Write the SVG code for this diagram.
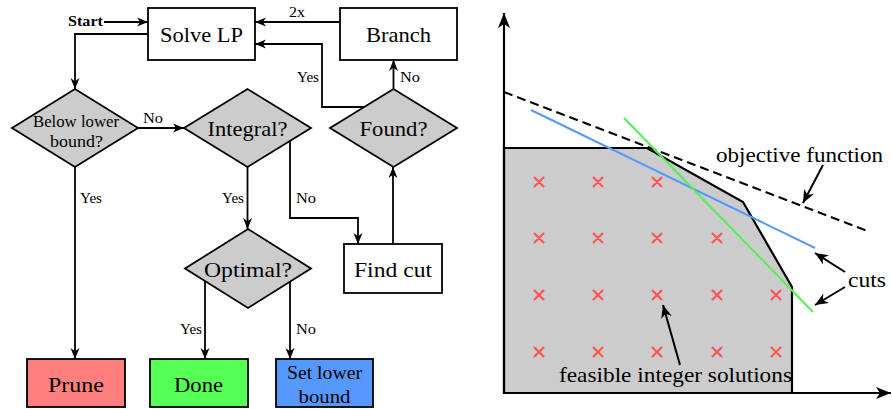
<svg xmlns="http://www.w3.org/2000/svg" width="892" height="409" viewBox="0 0 892 409">
  <defs>
    <style>
      text { font-family: "Liberation Serif", "DejaVu Serif", "Noto Serif", serif; fill: #000; }
      .box { stroke: #000; stroke-width: 1.8; }
      .dia { fill: #cccccc; stroke: #000; stroke-width: 1.8; }
      .lbl { font-size: 22px; text-anchor: middle; }
      .sm { font-size: 14px; }
      .big { font-size: 21px; }
      .edge { fill: none; stroke: #000; stroke-width: 1.8; marker-end: url(#arr); }
      .ptr { fill: none; stroke: #000; stroke-width: 2; marker-end: url(#arr2); }
      .x { stroke: #ff5555; stroke-width: 2.2; }
    </style>
    <marker id="arr" markerUnits="userSpaceOnUse" viewBox="0 0 11 10" refX="11" refY="5" markerWidth="11" markerHeight="10" orient="auto">
      <path d="M11,5 L0,0.5 L3.2,5 L0,9.5 Z" fill="#000"/>
    </marker>
    <marker id="arr2" markerUnits="userSpaceOnUse" viewBox="0 0 13 12" refX="13" refY="6" markerWidth="13" markerHeight="12" orient="auto">
      <path d="M13,6 L0,0.5 L3.8,6 L0,11.5 Z" fill="#000"/>
    </marker>
    <marker id="axarr" markerUnits="userSpaceOnUse" viewBox="0 0 15 13" refX="15" refY="6.5" markerWidth="15" markerHeight="13" orient="auto">
      <path d="M15,6.5 L0,0.5 L4,6.5 L0,12.5 Z" fill="#000"/>
    </marker>
  </defs>

  <!-- flowchart nodes -->
  <g id="solve-lp">
    <rect class="box" x="148" y="8" width="107" height="52" fill="#fff"/>
    <text class="lbl" x="201.5" y="42" textLength="83" lengthAdjust="spacingAndGlyphs">Solve LP</text>
  </g>
  <g id="branch">
    <rect class="box" x="340" y="8" width="117" height="52" fill="#fff"/>
    <text class="lbl" x="398.5" y="42" textLength="65" lengthAdjust="spacingAndGlyphs">Branch</text>
  </g>
  <g id="below-bound">
    <polygon class="dia" points="12,128 75,89 138,128 75,167"/>
    <text class="lbl" style="font-size:16px" x="76" y="127" textLength="86" lengthAdjust="spacingAndGlyphs">Below lower</text>
    <text class="lbl" style="font-size:16px" x="76.5" y="147" textLength="53" lengthAdjust="spacingAndGlyphs">bound?</text>
  </g>
  <g id="integral">
    <polygon class="dia" points="184,128 247.5,89 311,128 247.5,167"/>
    <text class="lbl" x="247.5" y="136" textLength="80" lengthAdjust="spacingAndGlyphs">Integral?</text>
  </g>
  <g id="found">
    <polygon class="dia" points="330,128 393.5,89 457,128 393.5,167"/>
    <text class="lbl" x="393.5" y="136" textLength="68" lengthAdjust="spacingAndGlyphs">Found?</text>
  </g>
  <g id="optimal">
    <polygon class="dia" points="185,268.5 248,229 311,268.5 248,308"/>
    <text class="lbl" x="248" y="277" textLength="88" lengthAdjust="spacingAndGlyphs">Optimal?</text>
  </g>
  <g id="find-cut">
    <rect class="box" x="344" y="244" width="98" height="49" fill="#fff"/>
    <text class="lbl" x="393" y="277" textLength="78" lengthAdjust="spacingAndGlyphs">Find cut</text>
  </g>
  <g id="prune">
    <rect class="box" x="27" y="359" width="98" height="48" fill="#ff7f7f"/>
    <text class="lbl" x="76" y="392" textLength="56" lengthAdjust="spacingAndGlyphs">Prune</text>
  </g>
  <g id="done">
    <rect class="box" x="150" y="359" width="98" height="48" fill="#55ff55"/>
    <text class="lbl" x="198.5" y="392" textLength="49" lengthAdjust="spacingAndGlyphs">Done</text>
  </g>
  <g id="set-lower-bound">
    <rect class="box" x="276" y="359" width="97" height="48" fill="#5599ff"/>
    <text class="lbl" style="font-size:19px" x="324.5" y="379" textLength="75" lengthAdjust="spacingAndGlyphs">Set lower</text>
    <text class="lbl" style="font-size:19px" x="324.5" y="403" textLength="52" lengthAdjust="spacingAndGlyphs">bound</text>
  </g>

  <!-- flowchart connectors -->
  <g id="connectors">
    <text x="68" y="26" style="font-size:15px;font-weight:bold" textLength="35" lengthAdjust="spacingAndGlyphs">Start</text>
    <path class="edge" d="M104,22 L148,22"/>
    <path class="edge" d="M340,22 L255,22"/>
    <text class="sm" x="289" y="17" textLength="16" lengthAdjust="spacingAndGlyphs">2x</text>
    <path class="edge" d="M364,107 L322,107 L322,44 L255,44"/>
    <text class="sm" x="297" y="82" textLength="22" lengthAdjust="spacingAndGlyphs">Yes</text>
    <path class="edge" d="M393.5,89 L393.5,60"/>
    <text class="sm" x="400" y="82" textLength="20" lengthAdjust="spacingAndGlyphs">No</text>
    <path class="edge" d="M148,34 L75,34 L75,89"/>
    <path class="edge" d="M138,128 L184,128"/>
    <text class="sm" x="143" y="123" textLength="20" lengthAdjust="spacingAndGlyphs">No</text>
    <path class="edge" d="M75,167 L75,359"/>
    <text class="sm" x="80" y="203" textLength="22" lengthAdjust="spacingAndGlyphs">Yes</text>
    <path class="edge" d="M247.5,167 L247.5,229"/>
    <text class="sm" x="222" y="203" textLength="22" lengthAdjust="spacingAndGlyphs">Yes</text>
    <path class="edge" d="M290,141 L290,218 L358,218 L358,244"/>
    <text class="sm" x="296" y="203" textLength="20" lengthAdjust="spacingAndGlyphs">No</text>
    <path class="edge" d="M393,244 L393,167"/>
    <path class="edge" d="M205,281 L205,359"/>
    <text class="sm" x="180" y="334" textLength="22" lengthAdjust="spacingAndGlyphs">Yes</text>
    <path class="edge" d="M290,281.5 L290,359"/>
    <text class="sm" x="296" y="334" textLength="20" lengthAdjust="spacingAndGlyphs">No</text>
  </g>

  <!-- cutting-plane plot -->
  <g id="plot">
    <polygon points="504,148 647,148 743,202 792,287 792,393 504,393" fill="#cccccc" stroke="#000" stroke-width="2.2"/>
    <path d="M504,394 L504,13" fill="none" stroke="#000" stroke-width="2.2" marker-end="url(#axarr)"/>
    <path d="M503,393 L891,393" fill="none" stroke="#000" stroke-width="2.2" marker-end="url(#axarr)"/>
    <path d="M504,92 L870,232" fill="none" stroke="#000" stroke-width="2" stroke-dasharray="9 5"/>
    <path d="M531,110 L815,248" fill="none" stroke="#5599ff" stroke-width="2"/>
    <path d="M624,118 L813,312" fill="none" stroke="#55ee55" stroke-width="2"/>
  </g>
  <g id="integer-points">
    <path class="x" d="M534,177l10,10m0,-10l-10,10 M593,177l10,10m0,-10l-10,10 M652,177l10,10m0,-10l-10,10
      M534,233l10,10m0,-10l-10,10 M593,233l10,10m0,-10l-10,10 M652,233l10,10m0,-10l-10,10 M712,233l10,10m0,-10l-10,10
      M534,290l10,10m0,-10l-10,10 M593,290l10,10m0,-10l-10,10 M652,290l10,10m0,-10l-10,10 M712,290l10,10m0,-10l-10,10 M771,290l10,10m0,-10l-10,10
      M534,347l10,10m0,-10l-10,10 M593,347l10,10m0,-10l-10,10 M652,347l10,10m0,-10l-10,10 M712,347l10,10m0,-10l-10,10 M771,347l10,10m0,-10l-10,10"/>
  </g>
  <g id="plot-labels">
    <text class="big" x="716" y="162" textLength="167" lengthAdjust="spacingAndGlyphs">objective function</text>
    <path class="ptr" d="M823,165 L803,203"/>
    <text class="big" x="848" y="287" textLength="38" lengthAdjust="spacingAndGlyphs">cuts</text>
    <path class="ptr" d="M845,272 L815,253"/>
    <path class="ptr" d="M845,287 L815,305"/>
    <text class="big" x="559" y="382" textLength="233" lengthAdjust="spacingAndGlyphs">feasible integer solutions</text>
    <path class="ptr" d="M680,365 L663,305"/>
  </g>
</svg>
